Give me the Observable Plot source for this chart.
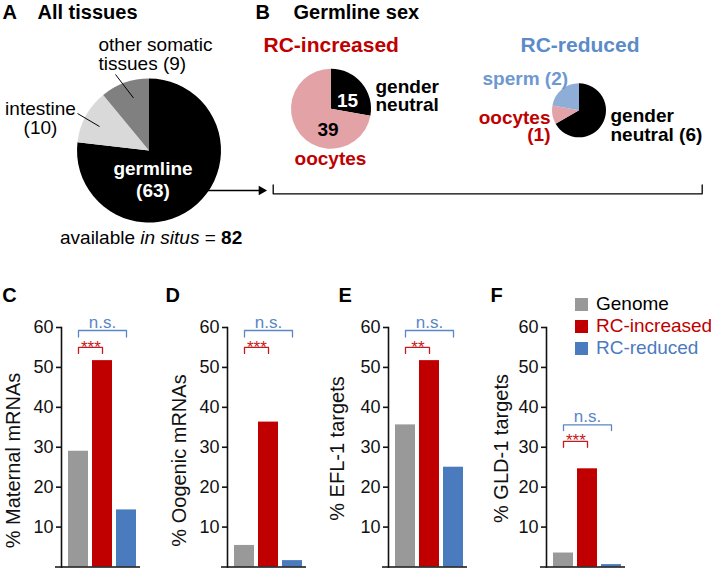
<!DOCTYPE html>
<html>
<head>
<meta charset="utf-8">
<script src="https://cdn.jsdelivr.net/npm/d3@7"></script>
<script src="https://cdn.jsdelivr.net/npm/@observablehq/plot@0.6"></script>
<style>
  body { margin: 0; background: #fff; }
  #fig { position: relative; width: 711px; height: 569px; overflow: hidden; background: #fff;
         font-family: "Liberation Sans", Arial, Helvetica, sans-serif; }
  #fig > svg, #fig > div { position: absolute; }
  .lg-row { position: absolute; left: 575px; font-size: 19px; line-height: 22px; white-space: nowrap; }
  .lg-sw { position: absolute; left: 575px; width: 13px; height: 13px; }
</style>
</head>
<body>
<div id="fig"></div>
<script>
// ---------------- DATA ----------------
const tissueCategories = ["germline", "intestine", "other somatic tissues"];
const tissueCounts = [63, 10, 9];

const increasedSexCategories = ["gender neutral", "oocytes"];
const increasedSexCounts = [15, 39];

const reducedSexCategories = ["gender neutral", "oocytes", "sperm"];
const reducedSexCounts = [6, 1, 2];

const groups = ["Genome", "RC-increased", "RC-reduced"];
const maternalPct = [29.0, 51.7, 14.3];
const oogenicPct = [5.4, 36.3, 1.6];
const efl1Pct = [35.6, 51.7, 25.0];
const gld1Pct = [3.5, 24.6, 0.6];

const panelLetters = ["C", "D", "E", "F"];
const panelTitles = ["% Maternal mRNAs", "% Oogenic mRNAs", "% EFL-1 targets", "% GLD-1 targets"];
const yTicks = [10, 20, 30, 40, 50, 60];
const increasedSignif = ["***", "***", "**", "***"];
const reducedSignif = ["n.s.", "n.s.", "n.s.", "n.s."];

// ---------------- STYLE / LAYOUT ----------------
const FONT = '"Liberation Sans", Arial, Helvetica, sans-serif';
const RED = "#c00000", BLUE = "#4a7bbf", GRAY = "#999999";
const TITLE_BLUE = "#5b8bc9", SPERM_BLUE = "#6e98d0", PINK = "#e3a2a6", LIGHTBLUE = "#8eaed8";
const NS_BLUE = "#5a87c5", STAR_RED = "#c41a22";
const tissueColor = {"germline": "#000000", "intestine": "#d9d9d9", "other somatic tissues": "#808080"};
const sexColor = {"gender neutral": "#000000", "oocytes": PINK, "sperm": LIGHTBLUE};
const barColors = [GRAY, RED, BLUE];

const fig = document.getElementById("fig");

function pieMark(counts, colors, cx, cy, r) {
  return () => {
    const arcs = d3.pie().sort(null)(counts);
    const arc = d3.arc().innerRadius(0).outerRadius(r);
    const g = d3.create("svg:g").attr("transform", `translate(${cx},${cy})`);
    g.selectAll("path").data(arcs).join("path").attr("d", arc).attr("fill", (d, i) => colors[i]);
    return g.node();
  };
}

function T(text, x, y, o = {}) {
  return Plot.text([text], {
    x: [x], y: [y], text: d => d,
    fontSize: o.size ?? 19, fontWeight: o.weight ?? "normal",
    fill: o.fill ?? "#000", textAnchor: o.anchor ?? "start", lineAnchor: "bottom",
    fontFamily: FONT
  });
}

const totalInSitu = d3.sum(tissueCounts);

// ---------------- TOP (panels A & B) + panel letters ----------------
const topPlot = Plot.plot({
  width: 711, height: 569, margin: 0,
  x: {type: "identity"}, y: {type: "identity"},
  style: {fontFamily: FONT, color: "#000", background: "none", overflow: "visible"},
  marks: [
    pieMark(tissueCounts, tissueCategories.map(c => tissueColor[c]), 149, 150.5, 72),
    pieMark(increasedSexCounts, increasedSexCategories.map(c => sexColor[c]), 331, 108.7, 40),
    pieMark(reducedSexCounts, reducedSexCategories.map(c => sexColor[c]), 579, 110.3, 27),
    // leader lines
    Plot.link([0], {x1: [115], y1: [74], x2: [133], y2: [97.5], stroke: "#000", strokeWidth: 1}),
    Plot.link([0], {x1: [77], y1: [113], x2: [99], y2: [126], stroke: "#000", strokeWidth: 1}),
    // arrow germline -> B
    Plot.link([0], {x1: [180], y1: [190], x2: [260], y2: [190], stroke: "#000", strokeWidth: 1.5}),
    Plot.dot([0], {x: [261], y: [190], symbol: "triangle", rotate: 90, r: 3.6, fill: "#000", stroke: "none"}),
    // bracket under B
    Plot.line([[272.7, 184.5], [272.7, 193.3], [701.7, 193.3], [701.7, 184.5]], {x: d => d[0], y: d => d[1], stroke: "#000", strokeWidth: 1.3}),
    // Panel A
    T("A", 2, 18, {size: 20, weight: "bold"}),
    T("All tissues", 37, 18, {size: 20, weight: "bold"}),
    T("other somatic", 98, 50),
    T("tissues (" + tissueCounts[2] + ")", 98, 69.5),
    T("intestine", 40, 114.5, {anchor: "middle"}),
    T("(" + tissueCounts[1] + ")", 40, 133.5, {anchor: "middle"}),
    T("germline", 152.5, 174, {anchor: "middle", weight: "bold", fill: "#fff"}),
    T("(" + tissueCounts[0] + ")", 152.5, 196, {anchor: "middle", weight: "bold", fill: "#fff"}),
    () => {
      const t = d3.create("svg:text").attr("x", 60).attr("y", 244).attr("font-size", 19)
        .attr("font-family", FONT).attr("fill", "#000").attr("text-anchor", "start");
      t.append("tspan").text("available ");
      t.append("tspan").attr("font-style", "italic").text("in situs");
      t.append("tspan").text(" = ");
      t.append("tspan").attr("font-weight", "bold").text(String(totalInSitu));
      return t.node();
    },
    // Panel B
    T("B", 255, 18, {size: 20, weight: "bold"}),
    T("Germline sex", 293, 18, {size: 20, weight: "bold"}),
    T("RC-increased", 263, 51.5, {size: 21, weight: "bold", fill: RED}),
    T("RC-reduced", 520, 51.5, {size: 21, weight: "bold", fill: TITLE_BLUE}),
    T(String(increasedSexCounts[0]), 347, 106, {anchor: "middle", weight: "bold", fill: "#fff"}),
    T(String(increasedSexCounts[1]), 327.5, 135, {anchor: "middle", weight: "bold"}),
    T("gender", 375, 92, {weight: "bold"}),
    T("neutral", 375, 110.5, {weight: "bold"}),
    T("oocytes", 330, 164.5, {anchor: "middle", weight: "bold", fill: RED}),
    T("sperm (" + reducedSexCounts[2] + ")", 482, 84, {weight: "bold", fill: SPERM_BLUE}),
    T("oocytes", 550, 123, {anchor: "end", weight: "bold", fill: RED}),
    T("(" + reducedSexCounts[1] + ")", 550, 140, {anchor: "end", weight: "bold", fill: RED}),
    T("gender", 610, 121, {weight: "bold"}),
    T("neutral (" + reducedSexCounts[0] + ")", 610, 140, {weight: "bold"}),
    // letters of bar panels
    T(panelLetters[0], 1.7, 301.7, {size: 20, weight: "bold"}),
    T(panelLetters[1], 165, 301.7, {size: 20, weight: "bold"}),
    T(panelLetters[2], 338, 301.7, {size: 20, weight: "bold"}),
    T(panelLetters[3], 490, 301.7, {size: 20, weight: "bold"})
  ]
});
topPlot.style.left = "0px"; topPlot.style.top = "0px";
fig.appendChild(topPlot);

// ---------------- BAR PANELS ----------------
const panelValues = [maternalPct, oogenicPct, efl1Pct, gld1Pct];
const axisX = [61, 226.6, 388, 546];
const labelLeft = [5, 171, 329, 493.3];
const labelCenterY = [460, 460, 448, 448];
const nsBracket = [[59.25, 57.6], [59.25, 57.6], [59.25, 57.6], [35.6, 34.2]];
const nsTextY = [59.75, 59.75, 59.75, 36.45];
const starBracket = [[55.0, 53.5], [55.0, 53.5], [55.0, 53.5], [31.45, 30.0]];
const starTextY = [53.6, 53.6, 53.6, 30.3];

const SVG_TOP = 290, SVG_H = 279, M_TOP = 37, M_BOT = 2.5;

panelValues.forEach((values, k) => {
  const ax = axisX[k];
  const data = groups.map((g, j) => ({group: g, value: values[j]}));
  const [nsTop, nsLeg] = nsBracket[k];
  const [stTop, stLeg] = starBracket[k];
  const nsLine = [[groups[0], nsLeg], [groups[0], nsTop], [groups[2], nsTop], [groups[2], nsLeg]];
  const stLine = [[groups[0], stLeg], [groups[0], stTop], [groups[1], stTop], [groups[1], stLeg]];
  const frameMid = SVG_TOP + (M_TOP + SVG_H - M_BOT) / 2;
  const svg = Plot.plot({
    width: 165, height: SVG_H,
    marginLeft: 61, marginRight: 25, marginTop: M_TOP, marginBottom: M_BOT,
    x: {type: "band", domain: groups, range: [66.7, 136.7], paddingInner: 0.172, paddingOuter: 0, axis: null},
    y: {domain: [0, 60], axis: null},
    color: {domain: groups, range: barColors},
    style: {fontFamily: FONT, color: "#111", background: "none", overflow: "visible"},
    marks: [
      Plot.barY(data, {x: "group", y: "value", fill: "group"}),
      Plot.ruleY([0], {insetLeft: -6, stroke: "#111", strokeWidth: 1.6}),
      Plot.frame({anchor: "left", stroke: "#111", strokeWidth: 1.6}),
      Plot.axisY({ticks: yTicks, tickSize: 5, tickPadding: 3, label: null, fontSize: 18, stroke: "#111", strokeWidth: 1.6}),
      Plot.line(nsLine, {x: d => d[0], y: d => d[1], stroke: NS_BLUE, strokeWidth: 1.3}),
      Plot.line(stLine, {x: d => d[0], y: d => d[1], stroke: STAR_RED, strokeWidth: 1.3}),
      Plot.text([reducedSignif[k]], {x: [groups[1]], y: [nsTextY[k]], text: d => d, fill: NS_BLUE, fontSize: 17, lineAnchor: "bottom"}),
      Plot.text([increasedSignif[k]], {x: [groups[0]], y: [starTextY[k]], text: d => d, dx: 12.4, fill: STAR_RED, fontSize: 17, lineAnchor: "bottom"}),
      Plot.text([panelTitles[k]], {frameAnchor: "left", text: d => d, rotate: -90, textAnchor: "middle", dx: labelLeft[k] - ax, dy: labelCenterY[k] - frameMid, fontSize: 20, lineAnchor: "top", fill: "#111"})
    ]
  });
  svg.style.left = (ax - 61) + "px";
  svg.style.top = SVG_TOP + "px";
  fig.appendChild(svg);
});

// ---------------- LEGEND ----------------
const legendTextColors = ["#000", RED, BLUE];
groups.forEach((g, j) => {
  const sw = document.createElement("div");
  sw.className = "lg-sw";
  sw.style.top = (298 + 22 * j) + "px";
  sw.style.background = barColors[j];
  fig.appendChild(sw);
  const lab = document.createElement("div");
  lab.className = "lg-row";
  lab.style.left = "596px";
  lab.style.top = (293 + 22 * j) + "px";
  lab.style.color = legendTextColors[j];
  lab.textContent = g;
  fig.appendChild(lab);
});
</script>
</body>
</html>
